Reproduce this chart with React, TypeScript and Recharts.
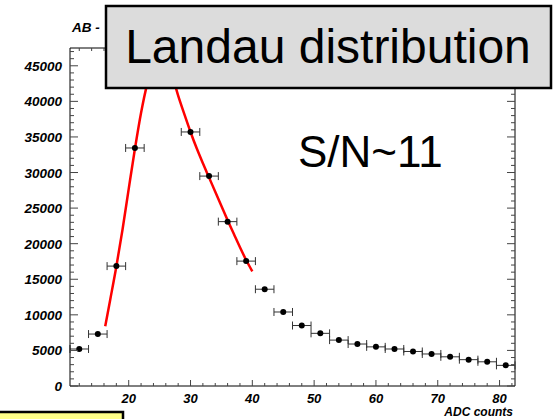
/**
 * Landau fit of ADC counts - histogram points with bin error bars and the fitted curve
 */

import React from 'react';
import {
  ComposedChart,
  Scatter,
  Line,
  XAxis,
  YAxis,
  ErrorBar,
  ReferenceLine
} from 'recharts';

// histogram bins (centre in ADC counts, entries)
const binCenters = [12, 15, 18, 21, 24, 27, 30, 33, 36, 39, 42, 45, 48, 51, 54, 57, 60, 63, 66, 69, 72, 75, 78, 81];
const binCounts = [5200, 7300, 16850, 33450, 45000, 44000, 35700, 29500, 23100, 17550, 13600, 10400, 8500, 7400, 6450, 5900, 5500, 5200, 4850, 4500, 4100, 3700, 3400, 2900];
const binHalfWidth = 1.5;

// fitted Landau curve, sampled over the fit range
const fitX = [16.2, 17, 18, 19, 20, 21, 22, 23, 24, 25, 26, 27, 28, 29, 30, 31, 32, 33, 34, 35, 36, 37, 38, 39, 40];
const fitY = [8400, 12100, 16800, 22000, 27700, 33300, 38400, 42500, 45500, 46600, 46200, 43800, 40800, 38200, 35700, 33400, 31300, 29300, 27300, 25300, 23300, 21400, 19500, 17700, 16100];

const xMajorTicks = [20, 30, 40, 50, 60, 70, 80];
const yMajorTicks = [0, 5000, 10000, 15000, 20000, 25000, 30000, 35000, 40000, 45000];

const X_DOMAIN: [number, number] = [10.5, 82.5];
const Y_DOMAIN: [number, number] = [0, 47500];

const W = 553;
const H = 419;
const PLOT = { left: 70, right: 515, top: 48, bottom: 386 };

const FONT = '"Liberation Sans", Arial, Helvetica, sans-serif';
const TICK_COLOR = '#444';

// minor ticks every 2 counts on x, every 1000 entries on y
const xTicks: number[] = [];
for (let v = 12; v <= 82; v += 2) xTicks.push(v);
const yTicks: number[] = [];
for (let v = 0; v <= 47000; v += 1000) yTicks.push(v);

const histData = binCenters.map((x, i) => ({ x, y: binCounts[i], ex: binHalfWidth }));
const fitData = fitX.map((x, i) => ({ x, fit: fitY[i] }));

// ROOT-style ticks: drawn inward on both the bottom and top frame edges
const XTick = ({ x, payload }: any) => {
  const v = payload.value as number;
  const major = xMajorTicks.includes(v);
  const len = major ? 6 : 3;
  return (
    <g>
      <line x1={x} x2={x} y1={PLOT.bottom} y2={PLOT.bottom - len} stroke={TICK_COLOR} />
      <line x1={x} x2={x} y1={PLOT.top} y2={PLOT.top + len} stroke={TICK_COLOR} />
      {major && (
        <text x={x} y={402.5} textAnchor="middle" fontFamily={FONT} fontWeight="bold" fontStyle="italic" fontSize={13} fill="#000">
          {v}
        </text>
      )}
    </g>
  );
};

const YTick = ({ y, payload }: any) => {
  const v = payload.value as number;
  const major = yMajorTicks.includes(v);
  const len = major ? 8 : 4;
  return (
    <g>
      <line x1={PLOT.left} x2={PLOT.left + len} y1={y} y2={y} stroke={TICK_COLOR} />
      <line x1={PLOT.right} x2={PLOT.right - len} y1={y} y2={y} stroke={TICK_COLOR} />
      {major && (
        <text x={62} y={y + 5} textAnchor="end" fontFamily={FONT} fontWeight="bold" fontStyle="italic" fontSize={13.5} fill="#000">
          {v}
        </text>
      )}
    </g>
  );
};

const Dot = (props: any) => <circle cx={props.cx} cy={props.cy} r={3} fill="#000" />;

const App: React.FC = () => {
  return (
    <div style={{ position: 'absolute', left: 0, top: 0, width: W, height: H, background: '#fff', overflow: 'hidden' }}>
      <ComposedChart
        width={W}
        height={H}
        margin={{ top: PLOT.top, right: W - PLOT.right, bottom: 0, left: 0 }}
      >
        <XAxis
          dataKey="x"
          type="number"
          domain={X_DOMAIN}
          allowDataOverflow
          ticks={xTicks}
          interval={0}
          tick={<XTick />}
          tickLine={false}
          height={H - PLOT.bottom}
          axisLine={{ stroke: '#000' }}
        />
        <YAxis
          type="number"
          domain={Y_DOMAIN}
          allowDataOverflow
          ticks={yTicks}
          interval={0}
          tick={<YTick />}
          tickLine={false}
          width={PLOT.left}
          axisLine={{ stroke: '#000' }}
        />
        <ReferenceLine y={Y_DOMAIN[1]} stroke="#000" />
        <ReferenceLine x={X_DOMAIN[1]} stroke="#000" />
        <Line
          data={fitData}
          dataKey="fit"
          type="monotone"
          stroke="#ff0000"
          strokeWidth={2.5}
          dot={false}
          isAnimationActive={false}
        />
        <Scatter data={histData} dataKey="y" shape={<Dot />} isAnimationActive={false}>
          <ErrorBar dataKey="ex" direction="x" width={4} stroke="#333" strokeWidth={1} isAnimationActive={false} />
        </Scatter>
      </ComposedChart>

      {/* annotations drawn over the plot */}
      <svg width={W} height={H} style={{ position: 'absolute', left: 0, top: 0, pointerEvents: 'none' }}>
        <text x={72} y={32} fontFamily={FONT} fontWeight="bold" fontStyle="italic" fontSize={13.5} fill="#000">AB -</text>
        <rect x={106} y={6} width={445} height={82} fill="#dcdcdc" stroke="#000" strokeWidth={2.5} />
        <text x={328} y={63} textAnchor="middle" fontFamily={FONT} fontSize={48} fill="#000">Landau distribution</text>
        <text x={298} y={167} fontFamily={FONT} fontSize={44} fill="#000">S/N~11</text>
        <text x={513} y={416.3} textAnchor="end" fontFamily={FONT} fontWeight="bold" fontStyle="italic" fontSize={12} fill="#000">ADC counts</text>
        <rect x={-2} y={412} width={125} height={20} fill="#ffff88" stroke="#000" strokeWidth={2.5} />
      </svg>
    </div>
  );
};

export default App;
